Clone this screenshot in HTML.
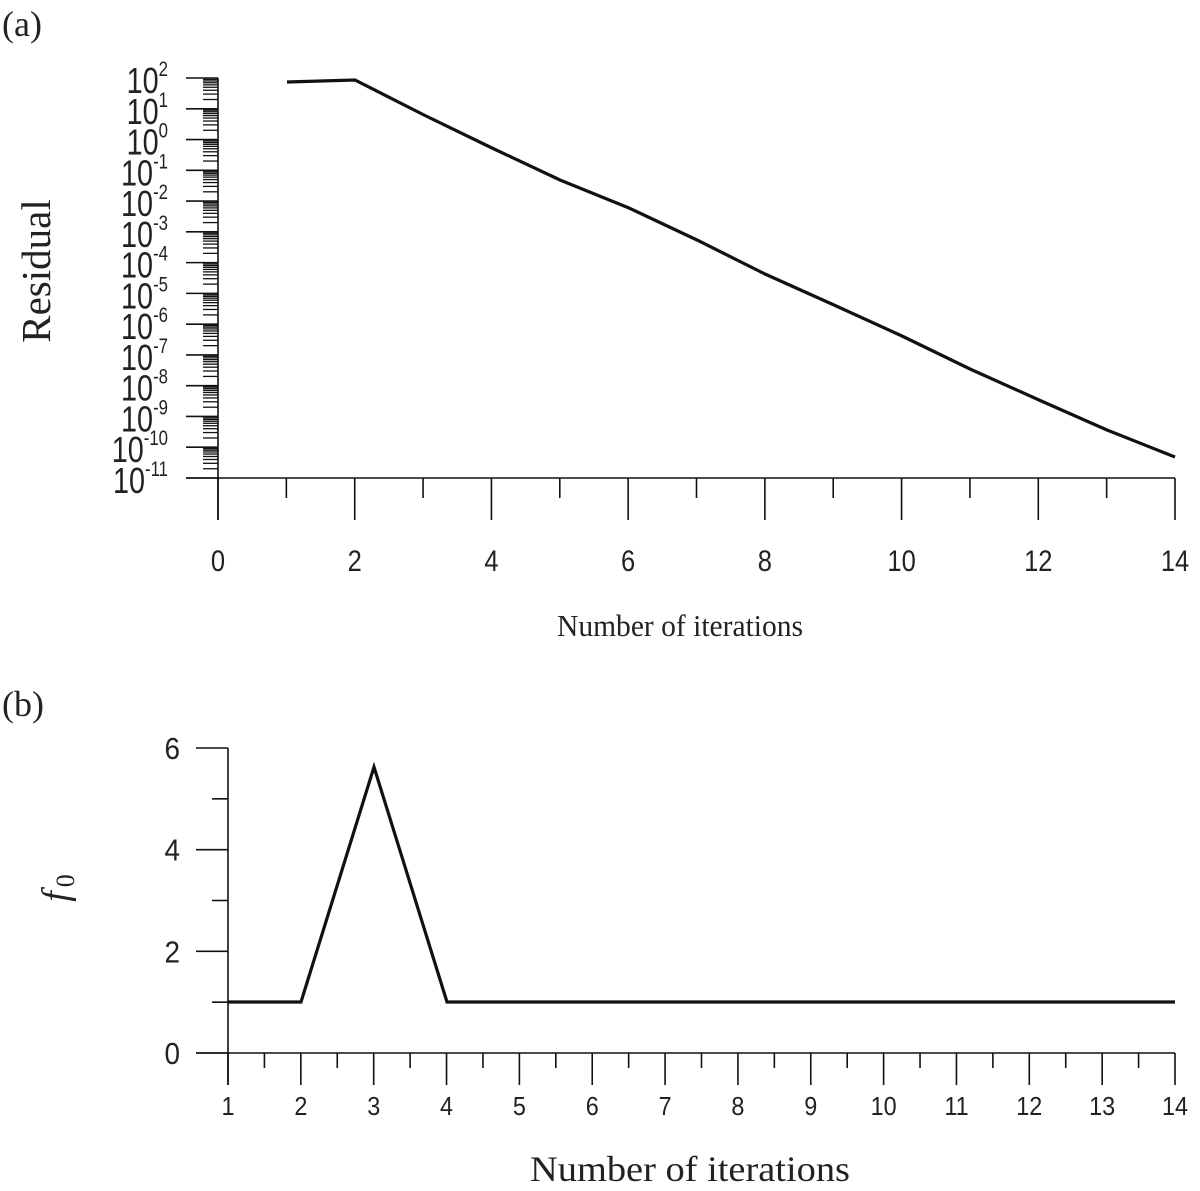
<!DOCTYPE html>
<html><head><meta charset="utf-8"><style>
html,body{margin:0;padding:0;background:#fff}
svg{display:block}
.s{font-family:"Liberation Sans",sans-serif;fill:#222}
.r{font-family:"Liberation Serif",serif;fill:#222}
</style></head><body>
<svg id="c" width="1200" height="1191" viewBox="0 0 1200 1191" xmlns="http://www.w3.org/2000/svg">
<text class="r" x="2" y="36" font-size="36">(a)</text>
<text class="r" x="2" y="716" font-size="36">(b)</text>
<text class="r" font-size="41" transform="translate(50,271) rotate(-90)" text-anchor="middle">Residual</text>
<text class="r" font-size="38" font-style="italic" transform="translate(68,888) rotate(-90)" text-anchor="middle">f<tspan font-size="26" font-style="normal" dx="4" dy="6">0</tspan></text>
<text class="r" x="557" y="636" font-size="31" textLength="246" lengthAdjust="spacingAndGlyphs">Number of iterations</text>
<text class="r" x="530" y="1181" font-size="36" textLength="320" lengthAdjust="spacingAndGlyphs">Number of iterations</text>
<g id="g" stroke="#111" fill="none"></g>
<g id="t"></g>
</svg>
<script>
var NS="http://www.w3.org/2000/svg",g=document.getElementById('g'),t=document.getElementById('t');
function L(x1,y1,x2,y2,w){var e=document.createElementNS(NS,'line');e.setAttribute('x1',x1);e.setAttribute('y1',y1);e.setAttribute('x2',x2);e.setAttribute('y2',y2);e.setAttribute('stroke-width',w||1.6);g.appendChild(e);}
function T(x,y,s,fs,anchor,sx){var e=document.createElementNS(NS,'text');e.setAttribute('class','s');e.setAttribute('font-size',fs);e.setAttribute('text-anchor',anchor||'middle');e.setAttribute('transform','translate('+x+','+y+') scale('+(sx||0.85)+',1)');e.innerHTML=s;t.appendChild(e);}
function P(pts,w){var e=document.createElementNS(NS,'polyline');e.setAttribute('points',pts.map(p=>p.join(',')).join(' '));e.setAttribute('stroke-width',w);e.setAttribute('stroke-linejoin','miter');g.appendChild(e);}
var ax=218,yTop=78,yBot=478,d=(yBot-yTop)/13;
L(ax,yTop,ax,520);L(186,yBot,1175,yBot);
for(var i=0;i<=13;i++){var y=yTop+i*d;L(186,y,ax,y);
 if(i<13){for(var k=2;k<=9;k++){var yy=yTop+(i+1)*d-Math.log10(k)*d;L(203,yy,ax,yy,1.3);}}
 var ex=2-i;T(168,y+15,'10<tspan font-size="21" dy="-17">'+ex+'</tspan>',36,'end',0.8);}
var xs=(1175-218)/14;
for(var j=0;j<=14;j++){var x=218+j*xs;L(x,yBot,x,j%2?498:520);if(j%2==0)T(x,571,j,30,'middle',0.85);}
P([[287,82],[355,80],[424,115],[492,148],[560,180],[629,208],[697,240],[765,274],[834,305],[902,336],[970,369],[1039,400],[1107,430],[1175,457]],3.2);
var bx=228,b0=1053,u=(1053-748)/6;
L(bx,748,bx,1085);L(196,b0,1175,b0);
for(var v=0;v<=6;v++){var y=b0-v*u;L(v%2?212:196,y,bx,y);if(v%2==0)T(180,y+11,v,31,'end',0.9);}
var bs=(1175-228)/13;
for(var n=1;n<=14;n++){var x=228+(n-1)*bs;L(x,b0,x,1085);T(x,1115,n,26,'middle',0.9);if(n<14)L(x+bs/2,b0,x+bs/2,1068);}
P([[228,1002],[301,1002],[374,767],[447,1002],[1175,1002]],3.2);
</script>
</body></html>
